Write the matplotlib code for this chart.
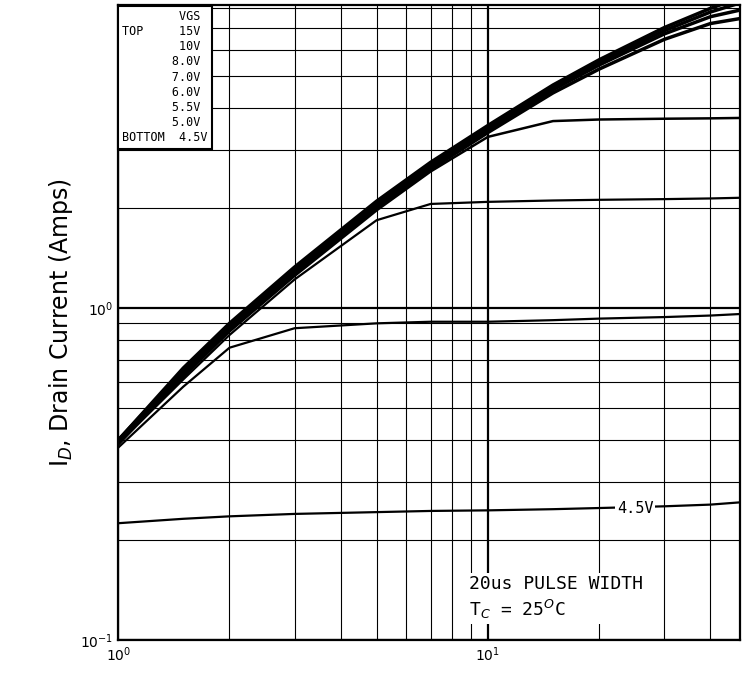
import numpy as np
import matplotlib.pyplot as plt

# drain-source voltage points (V)
vds = [1, 1.5, 2, 3, 5, 7, 10, 15, 20, 30, 40, 48]

# drain current per gate voltage (A)
id_15v = [0.40, 0.66, 0.90, 1.33, 2.10, 2.75, 3.55, 4.70, 5.60, 7.00, 8.00, 8.60]
id_10v = [0.40, 0.65, 0.89, 1.31, 2.07, 2.71, 3.50, 4.62, 5.50, 6.85, 7.80, 8.30]
id_8v  = [0.40, 0.64, 0.88, 1.29, 2.04, 2.67, 3.45, 4.55, 5.40, 6.70, 7.55, 7.90]
id_7v  = [0.39, 0.63, 0.86, 1.27, 2.00, 2.62, 3.38, 4.45, 5.25, 6.45, 7.20, 7.45]
id_6v  = [0.39, 0.62, 0.85, 1.25, 1.97, 2.58, 3.28, 3.66, 3.70, 3.72, 3.73, 3.74]
id_55v = [0.39, 0.61, 0.83, 1.22, 1.84, 2.06, 2.09, 2.11, 2.12, 2.13, 2.14, 2.15]
id_5v  = [0.38, 0.58, 0.76, 0.87, 0.90, 0.91, 0.91, 0.92, 0.93, 0.94, 0.95, 0.96]
id_45v = [0.225, 0.232, 0.236, 0.240, 0.243, 0.245, 0.246, 0.248, 0.250, 0.253, 0.256, 0.26]

fig = plt.figure(figsize=(7.48, 6.81), dpi=100)
ax = fig.add_axes([0.158, 0.06, 0.831, 0.933])
ax.set_xscale("log")
ax.set_yscale("log")
ax.set_xlim(1, 48)
ax.set_ylim(0.1, 8.2)

ax.grid(True, which="major", color="black", lw=1.6)
ax.grid(True, which="minor", color="black", lw=0.8)

for ys, w in [(id_15v, 2.5), (id_10v, 2.5), (id_8v, 2.5), (id_7v, 2.5),
              (id_6v, 1.8), (id_55v, 1.6), (id_5v, 1.6), (id_45v, 1.6)]:
    ax.plot(vds, ys, color="black", lw=w)

ax.text(25, id_45v[8], "4.5V", ha="center", va="center", fontsize=11,
        family="DejaVu Sans Mono", bbox=dict(facecolor="white", edgecolor="none", pad=1))

ax.text(0.565, 0.03, "20us PULSE WIDTH\nT$_C$ = 25$^O$C", transform=ax.transAxes,
        fontsize=13, family="DejaVu Sans Mono", ha="left", va="bottom", linespacing=1.3,
        bbox=dict(facecolor="white", edgecolor="none", pad=2))

# legend box
leg = "        VGS\nTOP     15V\n        10V\n       8.0V\n       7.0V\n       6.0V\n       5.5V\n       5.0V\nBOTTOM  4.5V"
ax.text(0.006, 0.992, leg, transform=ax.transAxes, fontsize=8.5, family="DejaVu Sans Mono",
        ha="left", va="top", linespacing=1.22,
        bbox=dict(facecolor="white", edgecolor="black", lw=1.5, pad=3))

ax.set_ylabel("I$_D$, Drain Current (Amps)", fontsize=17)
ax.tick_params(which="both", length=0, labelsize=10)
ax.yaxis.set_minor_formatter(plt.NullFormatter())
ax.xaxis.set_minor_formatter(plt.NullFormatter())
for s in ax.spines.values():
    s.set_linewidth(1.6)

fig.savefig("out.png")
